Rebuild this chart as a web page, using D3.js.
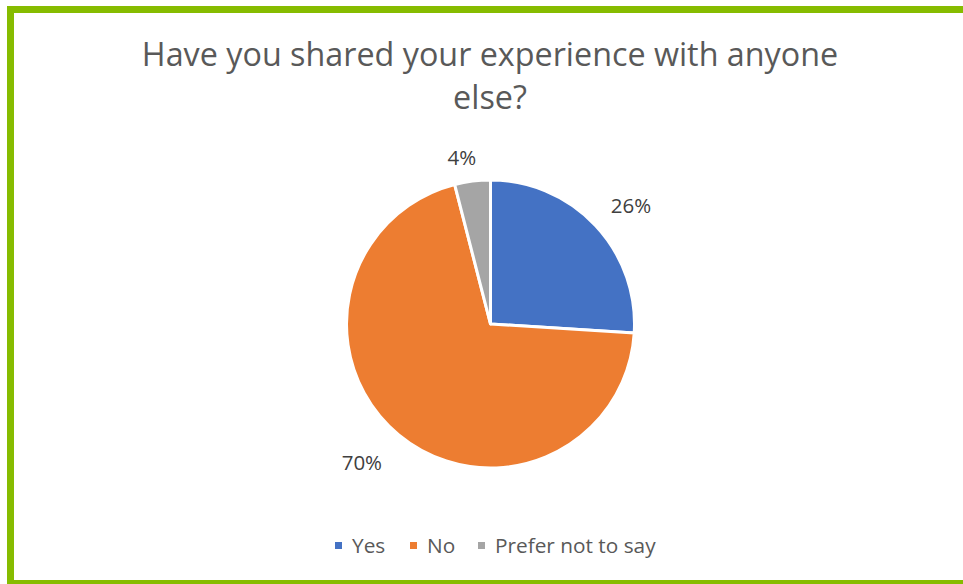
<!DOCTYPE html>
<html>
<head>
<meta charset="utf-8">
<script src="https://cdn.jsdelivr.net/npm/d3@7"></script>
<style>
  html, body { margin: 0; padding: 0; background: #fff; }
  svg { display: block; }
</style>
</head>
<body>
<svg id="chart" width="963" height="584"></svg>
<script>
// Survey responses
const categories = ["Yes", "No", "Prefer not to say"];
const values = [26, 70, 4];
const colors = ["#4472C4", "#ED7D31", "#A5A5A5"];
const titleLines = ["Have you shared your experience with anyone", "else?"];

const svg = d3.select("#chart");
const W = 963, H = 584;
const font = "'Open Sans', 'Noto Sans', sans-serif";

svg.append("rect").attr("width", W).attr("height", H).attr("fill", "#fff");

// Frame
svg.append("rect")
  .attr("x", 10.5).attr("y", 9.5)
  .attr("width", W + 20).attr("height", 574)
  .attr("fill", "none")
  .attr("stroke", "#86BC00")
  .attr("stroke-width", 7);

// Title
svg.append("g").selectAll("text").data(titleLines).join("text")
  .attr("x", 490).attr("y", (d, i) => 66 + i * 43)
  .attr("text-anchor", "middle")
  .attr("font-family", font)
  .attr("font-size", 32.3)
  .attr("fill", "#595959")
  .text(d => d);

// Pie
const cx = 490.5, cy = 324, r = 144;
const pie = d3.pie().sort(null).value(d => d)(values);
const arc = d3.arc().innerRadius(0).outerRadius(r);
const g = svg.append("g").attr("transform", `translate(${cx},${cy})`);
g.selectAll("path").data(pie).join("path")
  .attr("d", arc)
  .attr("fill", (d, i) => colors[i])
  .attr("stroke", "#fff")
  .attr("stroke-width", 3)
  .attr("stroke-linejoin", "round");

// Data labels outside the pie
const labelArc = d3.arc().innerRadius(r + 28).outerRadius(r + 28);
const labelOffsets = [[15, -1], [-19, 5.5], [-7, 4]];
g.selectAll("text.lbl").data(pie).join("text")
  .attr("class", "lbl")
  .attr("transform", (d, i) => {
    const [x, y] = labelArc.centroid(d);
    return `translate(${x + labelOffsets[i][0]},${y + labelOffsets[i][1]})`;
  })
  .attr("text-anchor", "middle")
  .attr("dominant-baseline", "central")
  .attr("font-family", font)
  .attr("font-size", 20.5)
  .attr("fill", "#404040")
  .text(d => d.value + "%");

// Legend
const legend = svg.append("g").attr("transform", "translate(0,545)");
const legendX = [335, 410, 478];
const items = legend.selectAll("g").data(categories).join("g")
  .attr("transform", (d, i) => `translate(${legendX[i]},0)`);
items.append("rect")
  .attr("x", 0).attr("y", -3).attr("width", 7).attr("height", 7)
  .attr("fill", (d, i) => colors[i]);
items.append("text")
  .attr("x", 17).attr("y", 0)
  .attr("dominant-baseline", "central")
  .attr("font-family", font)
  .attr("font-size", 20.8)
  .attr("fill", "#595959")
  .text(d => d);
</script>
</body>
</html>
